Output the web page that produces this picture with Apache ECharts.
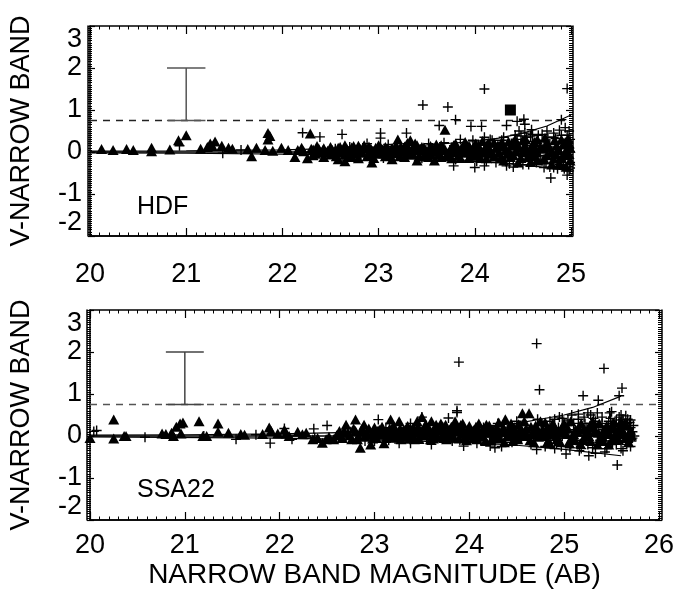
<!DOCTYPE html>
<html>
<head>
<meta charset="utf-8">
<script src="https://cdn.jsdelivr.net/npm/echarts/dist/echarts.min.js"></script>
<style>html,body{margin:0;padding:0;background:#fff;}#c{width:677px;height:591px;}</style>
</head>
<body>
<div id="c"></div>
<script>
// ---------- data ----------
const yTicks = [-2, -1, 0, 1, 2, 3];
const hdfXTicks = [20, 21, 22, 23, 24, 25];
const ssaXTicks = [20, 21, 22, 23, 24, 25, 26];
const panelNames = ['HDF', 'SSA22'];
const cutLevel = 0.75;
const errBar = { x: 21, lo: 0.75, hi: 2.0, halfCap: 0.2 };

const hdfTriangles = [
 [20.12,0.07],[20.24,0.05],[20.38,0.07],[20.45,0.05],[20.64,0.1],[20.64,0.02],[20.83,0.06],[20.92,0.28],[21.0,0.4],
 [21.15,0.08],[21.22,0.12],[21.25,0.2],[21.3,0.25],[21.27,0.15],[21.37,0.15],[21.44,0.1],[21.48,0.08],[21.64,0.07],
 [21.68,-0.1],[21.73,0.1],[21.85,0.45],[21.85,0.3],[21.87,0.38],[21.82,0.05],[21.9,0.03],[21.99,0.1],[22.06,0.05],
 [22.13,-0.12],[22.16,0.05],[22.2,0.1],[22.22,0.02],[22.26,-0.15],[22.29,0.44],[22.3,0.08],[22.33,-0.02],
 [22.32,0.06],[22.32,-0.08],[22.36,0.14],[22.4,-0.02],[22.43,0.09],[22.43,-0.12],[22.47,0.03],[22.5,0.12],[22.5,-0.06],
 [22.54,0.0],[22.58,0.1],[22.58,-0.17],[22.61,0.05],[22.65,-0.06],[22.65,0.16],[22.65,-0.22],[22.69,0.02],[22.72,0.11],
 [22.72,-0.1],[22.76,0.04],[22.79,0.15],[22.79,-0.15],[22.83,-0.02],[22.86,0.08],[22.9,0.13],[22.9,-0.08],[22.93,-0.25],
 [22.93,0.03],[22.97,0.1],[23.0,-0.04],[23.0,0.16],[23.04,0.06],[23.07,-0.1],[23.07,0.12],[23.11,0.02],[23.14,0.09],
 [23.14,-0.17],[23.18,0.15],[23.2,0.3],[23.2,-0.03],[23.24,0.07],[23.27,0.13],[23.27,-0.12],[23.31,0.02],[23.33,0.28],
 [23.36,0.1],[23.36,-0.06],[23.4,-0.2],[23.4,0.16],[23.43,0.04],[23.47,0.11],[23.47,-0.1],[23.5,0.0],[23.54,0.14],
 [23.54,-0.05],[23.58,-0.2],[23.58,0.08],[23.61,0.02],[23.65,0.16],[23.65,-0.12],[23.69,0.53],[23.69,0.06],[23.72,-0.03],
 [23.76,0.12],[23.76,-0.15],[23.8,0.2],[23.8,0.04],[23.83,-0.08],[23.87,0.1],[23.9,0.24],[23.9,-0.02],[23.94,0.14],
 [23.94,-0.14],[23.97,0.05],[24.01,0.2],[24.01,-0.08],[24.05,0.1],[24.08,0.26],[24.08,-0.02],[24.12,-0.15],[24.12,0.15],
 [24.16,0.05],[24.2,0.22],[24.2,-0.1],[24.25,0.0],[24.3,0.14],[24.3,-0.2],[24.35,0.25],[24.35,0.05],[24.4,-0.08],
 [24.45,0.12],[24.45,-0.25],[24.5,0.28],[24.5,0.0],[24.55,-0.12],[24.6,0.18],[24.6,0.06],[24.65,-0.2],[24.65,0.3],
 [24.7,0.08],[24.75,-0.08],[24.75,0.22],[24.8,0.02],[24.8,-0.3],[24.85,0.15],[24.9,-0.15],[24.9,0.3],[24.95,0.05],
 [24.95,-0.35],[24.98,0.2],[24.98,-0.05],
 [22.34,-0.04],[22.38,0.07],[22.45,0.0],[22.52,0.05],[22.56,-0.1],[22.6,0.12],[22.63,-0.02],[22.67,0.07],[22.7,-0.12],
 [22.74,0.14],[22.77,-0.04],[22.81,0.06],[22.85,0.16],[22.88,-0.1],[22.92,0.08],[22.95,-0.14],[22.99,0.04],[23.02,0.12],
 [23.06,-0.02],[23.09,0.07],[23.12,-0.08],[23.16,0.04],[23.19,0.1],[23.22,-0.1],[23.26,0.02],[23.29,0.18],[23.32,-0.06],
 [23.35,0.06],[23.38,0.2],[23.42,-0.1],[23.45,0.12],[23.49,0.05],[23.52,-0.12],[23.56,0.06],[23.6,0.18],[23.63,-0.04],
 [23.67,0.1],[23.7,-0.1],[23.74,0.04],[23.78,0.16],[23.82,0.08],[23.85,-0.14],[23.88,0.16],[23.92,0.06],[23.96,-0.06],
 [23.99,0.12],[24.03,0.02],[24.06,-0.14],[24.1,0.06],[24.14,0.22],[24.18,-0.04],[24.22,0.1],[24.27,-0.14],[24.28,0.24],
 [24.32,0.04],[24.37,-0.12],[24.38,0.15],[24.42,0.3],[24.43,0.02],[24.48,-0.14],[24.52,0.14],[24.53,0.3],[24.57,-0.03],
 [24.58,-0.24],[24.62,0.24],[24.63,-0.1],[24.68,0.12],[24.72,-0.16],[24.73,0.34],[24.77,0.1],[24.82,-0.16],[24.83,0.28],
 [24.87,0.04],[24.88,-0.26],[24.92,0.18],[24.93,-0.08],[24.97,0.32],[24.99,-0.2],[24.99,0.1],
 [22.42,0.04],[22.55,0.04],[22.68,0.0],[22.8,0.1],[22.91,0.02],[23.03,0.0],[23.13,0.05],[23.23,0.12],[23.34,0.0],
 [23.44,0.08],[23.55,0.02],[23.66,0.04],[23.77,0.0],[23.86,0.04],[23.95,0.1],[24.04,0.06],[24.15,0.0],[24.24,0.16],
 [24.34,-0.04],[24.44,0.2],[24.54,0.05],[24.64,0.0],[24.74,0.16],[24.84,-0.05],[24.94,0.24]
];
const hdfCrosses = [
 [20.93,0.15],[21.38,-0.03],[21.57,0.05],[22.21,0.46],[22.39,0.36],[22.62,0.42],[23.02,0.45],[23.02,0.33],[23.29,0.45],
 [23.46,1.12],[23.63,0.63],[23.72,1.07],[23.8,0.77],[23.96,0.61],[24.07,0.61],[24.1,1.5],[24.33,0.63],[24.44,0.73],
 [24.51,0.78],[24.52,0.66],[24.59,0.53],[24.75,0.5],[24.9,0.77],[24.96,1.51],[24.79,-0.62],[24.0,-0.37],[24.1,-0.33],
 [24.33,-0.33],[24.72,-0.37],[24.82,-0.37],[23.78,-0.33],
 [22.35,0.04],[22.55,0.08],[22.62,-0.1],[22.7,0.12],[22.8,-0.05],[22.88,0.2],[22.95,0.0],[23.05,-0.14],[23.1,0.18],
 [23.15,0.0],[23.22,-0.08],[23.3,0.2],[23.38,0.0],[23.45,-0.15],[23.52,0.2],[23.6,-0.08],[23.68,0.22],[23.74,0.05],
 [23.8,-0.18],[23.85,0.3],[23.92,-0.05],[23.98,0.28],[24.02,-0.22],[24.06,0.08],[24.1,0.35],[24.14,-0.05],[24.18,0.28],
 [24.22,-0.25],[24.26,0.12],[24.3,0.35],[24.34,-0.12],[24.38,0.2],[24.42,0.4],[24.46,-0.05],[24.5,-0.3],[24.54,0.15],
 [24.58,0.38],[24.62,-0.15],[24.66,0.05],[24.7,0.42],[24.74,-0.28],[24.78,0.2],[24.82,0.45],[24.86,-0.1],[24.9,0.1],
 [24.93,-0.4],[24.96,0.4],[24.99,0.0],[24.99,-0.25],[24.97,0.25],[24.88,-0.3],[24.84,0.32],[24.76,0.35],[24.68,-0.08],
 [24.6,0.25],[24.52,0.45],[24.44,0.3],[24.36,-0.28],[24.64,-0.25],[24.56,-0.2],[24.86,-0.2],[24.92,0.2],[24.98,0.1],
 [24.04,0.18],[24.12,-0.22],[24.16,0.3],[24.24,-0.12],[24.28,0.28],[24.32,-0.22],[24.4,0.22],[24.48,0.38],[24.5,0.1],
 [24.56,-0.3],[24.6,0.42],[24.64,0.15],[24.7,-0.2],[24.72,0.28],[24.8,-0.1],[24.82,0.35],[24.86,-0.4],[24.9,0.4],
 [24.94,-0.15],[24.96,0.15],[24.98,-0.45],[24.99,0.3],[24.92,-0.3],[24.84,0.12],[24.78,-0.36],[24.66,0.4],[24.58,-0.1],
 [24.54,0.35],[24.46,0.5],[24.4,-0.36],[24.88,0.52],[24.98,0.5],[24.94,0.58],[24.96,-0.55],[24.99,-0.38]
];
const hdfSquares = [[24.37, 1.0]];
const hdfUpper = [[20,0.02],[21,0.03],[22,0.05],[22.5,0.08],[23,0.12],[23.5,0.17],[24,0.25],[24.25,0.33],[24.5,0.45],[24.75,0.62],[25,0.88]];
const hdfLower = [[20,-0.02],[21,-0.03],[22,-0.05],[22.5,-0.07],[23,-0.1],[23.5,-0.14],[24,-0.21],[24.5,-0.3],[25,-0.45]];
const hdfCenter = [[20,0],[25,0]];

const ssaTriangles = [
 [20.0,-0.05],[20.25,0.39],[20.25,-0.06],[20.36,0.0],[20.38,0.0],[20.76,0.06],[20.8,0.05],[20.86,0.08],[20.88,0.0],
 [20.91,0.22],[20.95,0.3],[20.98,0.32],[20.96,0.06],[21.15,0.35],[21.19,0.0],[21.23,0.0],[21.35,0.3],[21.35,0.1],
 [21.46,0.08],[21.59,0.05],[21.63,0.03],[21.82,0.05],[21.89,0.2],[21.91,0.12],[21.98,0.06],[22.05,0.15],[22.07,0.06],
 [22.1,0.0],[22.19,0.1],[22.24,0.04],[22.28,0.08],[22.35,-0.08],[22.4,-0.05],[22.45,-0.16],[22.49,-0.08],[22.52,-0.02],
 [22.57,-0.08],[22.6,0.02],[22.63,0.12],[22.66,-0.05],[22.7,0.27],[22.72,0.08],[22.76,-0.08],[22.8,0.39],[22.8,0.12],
 [22.83,0.0],[22.85,-0.28],[22.87,0.18],[22.89,0.27],[22.92,0.05],[22.96,-0.2],[22.98,0.1],[23.02,-0.05],[23.05,0.15],
 [23.08,0.03],[23.1,-0.17],[23.13,0.1],[23.17,0.39],[23.18,-0.03],[23.21,0.12],[23.24,0.02],[23.26,0.35],[23.28,-0.08],
 [23.31,0.15],[23.34,0.05],[23.37,-0.05],[23.4,0.18],[23.43,0.08],[23.45,0.35],[23.47,-0.07],[23.5,0.45],[23.5,0.12],
 [23.53,0.02],[23.56,0.2],[23.59,-0.08],[23.6,0.35],[23.62,0.1],[23.65,0.27],[23.66,-0.02],[23.69,0.15],[23.72,0.05],
 [23.75,0.27],[23.76,-0.08],[23.79,0.15],[23.82,0.02],[23.85,0.35],[23.86,0.2],[23.89,-0.06],[23.93,0.3],[23.94,0.1],
 [23.97,-0.1],[24.0,0.24],[24.02,0.05],[24.05,0.15],[24.08,-0.08],[24.1,0.3],[24.12,0.08],[24.15,-0.02],[24.18,0.27],
 [24.2,0.12],[24.23,-0.1],[24.26,0.05],[24.29,0.2],[24.32,-0.05],[24.35,0.12],[24.38,0.4],[24.4,0.0],[24.43,0.2],
 [24.46,-0.12],[24.49,0.1],[24.52,0.28],[24.56,0.54],[24.57,0.02],[24.6,0.18],[24.63,0.54],[24.64,-0.1],[24.67,0.1],
 [24.7,0.25],[24.73,-0.02],[24.77,0.15],[24.8,0.32],[24.83,-0.12],[24.86,0.05],[24.9,0.22],[24.93,-0.05],[24.97,0.12],
 [25.0,0.3],[25.05,-0.15],[25.1,0.05],[25.15,0.2],[25.2,-0.08],[25.25,0.12],[25.3,0.35],[25.35,-0.2],[25.4,0.0],
 [25.45,0.25],[25.5,-0.1],[25.55,0.1],[25.6,0.35],[25.65,-0.05],[25.7,0.15],
 [22.62,0.05],[22.68,0.12],[22.74,0.02],[22.78,0.18],[22.82,-0.08],[22.86,0.1],[22.9,0.0],[22.94,0.18],[22.98,-0.06],
 [23.0,0.2],[23.04,0.06],[23.08,0.22],[23.12,-0.05],[23.15,0.1],[23.2,0.25],[23.23,-0.04],[23.27,0.18],[23.3,0.0],
 [23.35,0.24],[23.38,0.1],[23.42,-0.08],[23.46,0.22],[23.49,0.02],[23.54,0.28],[23.57,0.08],[23.62,-0.06],[23.66,0.14],
 [23.7,0.3],[23.73,-0.05],[23.77,0.08],[23.81,0.22],[23.84,-0.04],[23.88,0.12],[23.91,0.26],[23.96,0.02],[23.99,0.14],
 [24.04,-0.05],[24.07,0.22],[24.11,0.0],[24.14,0.15],[24.17,-0.12],[24.21,0.25],[24.24,0.08],[24.28,-0.06],[24.31,0.32],
 [24.34,0.1],[24.37,-0.15],[24.41,0.12],[24.44,0.3],[24.47,0.02],[24.51,-0.08],[24.54,0.18],[24.58,0.35],[24.61,0.0],
 [24.65,0.22],[24.68,-0.15],[24.72,0.12],[24.75,0.35],[24.79,0.0],[24.82,0.2],[24.85,-0.18],[24.88,0.3],[24.91,0.08],
 [24.95,-0.12],[24.98,0.22],[25.02,0.05],[25.07,0.35],[25.08,-0.05],[25.12,0.15],[25.17,-0.18],[25.18,0.3],[25.22,0.0],
 [25.27,0.25],[25.28,-0.12],[25.32,0.1],[25.37,0.3],[25.38,-0.05],[25.42,0.15],[25.47,-0.2],[25.48,0.05],[25.52,0.32],
 [25.57,-0.08],[25.58,0.2],[25.62,0.05],[25.66,0.25],[25.68,-0.15],[25.71,0.02],
 [23.03,0.12],[23.1,0.05],[23.16,0.18],[23.22,0.08],[23.29,0.1],[23.33,0.16],[23.4,0.04],[23.44,0.15],[23.52,0.08],
 [23.58,0.16],[23.64,0.05],[23.68,0.2],[23.74,0.12],[23.8,0.06],[23.83,0.14],[23.9,0.18],[23.95,0.06],[24.01,0.12],
 [24.06,0.04],[24.09,0.16],[24.16,0.08],[24.19,0.18],[24.25,0.14],[24.3,0.06],[24.36,0.2],[24.42,0.06],[24.48,0.16],
 [24.53,0.06],[24.59,0.1],[24.66,0.05],[24.7,0.15],[24.76,0.06],[24.81,0.1],[24.87,0.15],[24.92,0.0],[24.99,0.08],
 [25.04,0.18],[25.11,-0.08],[25.14,0.1],[25.21,0.15],[25.26,0.0],[25.31,0.2],[25.36,0.08],[25.41,-0.12],[25.44,0.1],
 [25.5,0.18],[25.54,-0.02],[25.61,0.15],[25.64,0.3],[25.69,0.08]
];
const ssaCrosses = [
 [20.04,0.11],[20.07,0.13],[20.58,-0.03],[21.2,0.0],[21.54,-0.08],[21.75,0.03],[21.9,-0.17],[22.05,0.18],[22.13,-0.08],
 [22.36,0.17],[22.37,-0.04],[22.5,0.25],[22.62,-0.05],[22.75,0.1],[22.9,-0.12],[23.04,0.39],[23.0,0.0],[23.15,-0.1],
 [23.26,-0.17],[23.3,0.1],[23.38,0.3],[23.38,-0.17],[23.5,0.45],[23.55,-0.05],[23.6,-0.2],[23.7,0.1],[23.78,0.43],
 [23.87,0.6],[23.87,0.56],[23.9,-0.1],[23.94,-0.24],[24.05,0.1],[24.08,-0.17],[24.15,0.2],[24.22,-0.24],[24.27,-0.28],
 [24.3,0.3],[24.34,-0.25],[24.4,0.15],[24.45,-0.15],[24.5,0.35],[24.55,-0.05],[24.6,0.25],[24.65,-0.2],[24.71,-0.32],
 [24.72,0.4],[24.75,0.05],[24.8,-0.25],[24.85,0.35],[24.88,0.1],[24.92,-0.18],[24.95,0.45],[24.98,0.0],[25.02,-0.43],
 [25.03,0.25],[25.06,-0.28],[25.08,0.5],[25.1,0.15],[25.12,-0.1],[25.15,0.4],[25.18,-0.3],[25.2,0.96],[25.2,0.05],
 [25.22,0.3],[25.25,-0.2],[25.26,-0.47],[25.28,0.5],[25.3,0.1],[25.33,-0.41],[25.33,0.35],[25.36,0.85],[25.38,-0.1],
 [25.4,0.45],[25.42,1.61],[25.42,0.15],[25.45,-0.3],[25.48,0.55],[25.5,0.0],[25.52,0.3],[25.55,-0.2],[25.56,-0.69],
 [25.58,0.96],[25.58,0.45],[25.6,0.1],[25.61,1.14],[25.62,-0.35],[25.63,0.25],[25.65,-0.1],[25.67,0.4],[25.68,0.05],
 [25.7,-0.25],[25.7,0.2],[25.72,-0.05],[25.72,0.1],[23.89,1.76],[24.71,2.2],[24.74,1.1],
 [25.05,0.1],[25.14,-0.2],[25.24,0.2],[25.35,0.0],[25.44,-0.12],[25.53,0.18],[25.62,-0.02],[25.66,0.3],[25.47,0.35],
 [24.82,0.15],[24.86,-0.1],[24.9,0.4],[24.94,0.2],[24.97,-0.25],[25.0,0.12],[25.04,0.38],[25.07,-0.2],[25.1,0.3],
 [25.13,0.0],[25.16,-0.35],[25.19,0.2],[25.21,0.45],[25.24,-0.05],[25.27,0.15],[25.3,-0.28],[25.31,0.42],[25.34,0.2],
 [25.37,-0.15],[25.4,0.3],[25.43,-0.38],[25.46,0.1],[25.49,0.42],[25.51,-0.15],[25.54,0.25],[25.57,0.05],[25.6,-0.3],
 [25.6,0.5],[25.63,0.15],[25.66,-0.2],[25.69,0.32],[25.71,-0.12],[25.73,0.25],[25.74,0.0],[25.5,0.58],[25.55,0.38],
 [25.65,0.48],[25.7,0.38],[25.62,0.4],[25.35,0.55],[25.25,0.55],[25.15,0.52],[24.98,0.42],[24.92,-0.05],
 [22.7,-0.02],[22.85,0.05],[23.0,-0.12],[23.12,0.2],[23.25,0.05],[23.42,0.12],[23.58,0.02],[23.72,0.2],[23.82,-0.12],
 [23.98,0.05],[24.12,-0.1],[24.25,0.15],[24.38,0.0],[24.48,0.2],[24.62,-0.1],[24.78,0.25],[24.9,-0.3]
];
const ssaUpper = [[20,0.02],[21,0.03],[22,0.05],[23,0.1],[23.5,0.13],[24,0.2],[24.5,0.3],[25,0.5],[25.3,0.68],[25.6,0.95]];
const ssaLower = [[20,-0.02],[22,-0.05],[23,-0.09],[24,-0.16],[24.5,-0.22],[25,-0.32],[25.6,-0.47]];
const ssaCenter = [[20,0],[25.6,0]];

// ---------- chart ----------
const FONT = "'Liberation Sans', Arial, Helvetica, sans-serif";
const crossPath = 'path://M4.3,0h1.4v4.3h4.3v1.4h-4.3v4.3h-1.4v-4.3h-4.3v-1.4h4.3z';
const GRIDS = [
  { left: 88, top: 26, width: 483, height: 210 },
  { left: 88, top: 310, width: 572, height: 210 }
];
const AXLINE = { show: true, onZero: false, lineStyle: { color: '#000', width: 1.5 } };

function xLab(grid, max, name, margin) {
  return {
    type: 'value', gridIndex: grid, position: 'bottom', min: 20, max: max, interval: 1,
    name: name || '', nameLocation: 'middle', nameGap: 41,
    nameTextStyle: { fontFamily: FONT, fontSize: 28, color: '#000' },
    axisLine: AXLINE, axisTick: { show: false }, minorTick: { show: false },
    axisLabel: { show: true, fontFamily: FONT, fontSize: 27, color: '#000', margin: margin },
    splitLine: { show: false }
  };
}
function xTick(grid, max, pos) {
  return {
    type: 'value', gridIndex: grid, position: pos, offset: -GRIDS[grid].height, min: 20, max: max, interval: 1,
    axisLine: AXLINE,
    axisTick: { show: true, length: 8, lineStyle: { color: '#000', width: 1.2 } },
    minorTick: { show: true, splitNumber: 10, length: 3.5, lineStyle: { color: '#000', width: 1 } },
    axisLabel: { show: false }, splitLine: { show: false }
  };
}
function yLab(grid) {
  return {
    type: 'value', gridIndex: grid, position: 'left', min: -2, max: 3, interval: 1,
    name: 'V-NARROW BAND', nameLocation: 'middle', nameGap: 55, nameRotate: 90,
    nameTextStyle: { fontFamily: FONT, fontSize: 27, color: '#000' },
    axisLine: AXLINE, axisTick: { show: false }, minorTick: { show: false },
    axisLabel: { show: true, fontFamily: FONT, fontSize: 27, color: '#000', margin: 8,
                 verticalAlignMaxLabel: 'top', verticalAlignMinLabel: 'bottom' },
    splitLine: { show: false }
  };
}
function yTick(grid, pos) {
  return {
    type: 'value', gridIndex: grid, position: pos, offset: -GRIDS[grid].width, min: -2, max: 3, interval: 1,
    axisLine: AXLINE,
    axisTick: { show: true, length: 7, lineStyle: { color: '#000', width: 1.2 } },
    minorTick: { show: true, splitNumber: 20, length: 4, lineStyle: { color: '#000', width: 1 } },
    axisLabel: { show: false }, splitLine: { show: false }
  };
}
function scat(data, symbol, size, xi, yi) {
  return { type: 'scatter', xAxisIndex: xi, yAxisIndex: yi, data: data, symbol: symbol, symbolSize: size,
           itemStyle: { color: '#000', opacity: 1 }, silent: true, z: 3 };
}
function line(data, xi, yi, color, width, type, z) {
  return { type: 'line', xAxisIndex: xi, yAxisIndex: yi, data: data, symbol: 'none', smooth: false,
           lineStyle: { color: color, width: width, type: type || 'solid' }, silent: true, z: z || 4 };
}
function errBarPts(b) {
  return [[b.x - b.halfCap, b.hi], [b.x + b.halfCap, b.hi], [b.x, b.hi], [b.x, b.lo],
          [b.x - b.halfCap, b.lo], [b.x + b.halfCap, b.lo]];
}

const chart = echarts.init(document.getElementById('c'), null, { renderer: 'canvas' });
chart.setOption({
  animation: false,
  backgroundColor: '#fff',
  grid: GRIDS,
  xAxis: [
    xLab(0, 25, '', 25),
    xTick(0, 25, 'top'),
    xTick(0, 25, 'bottom'),
    xLab(1, 26, 'NARROW BAND MAGNITUDE (AB)', 12),
    xTick(1, 26, 'top'),
    xTick(1, 26, 'bottom')
  ],
  yAxis: [
    yLab(0),
    yTick(0, 'right'),
    yTick(0, 'left'),
    yLab(1),
    yTick(1, 'right'),
    yTick(1, 'left')
  ],
  graphic: [
    { type: 'text', left: 137, top: 195, style: { text: panelNames[0], font: '25px ' + FONT, fill: '#000' } },
    { type: 'text', left: 137, top: 478, style: { text: panelNames[1], font: '25px ' + FONT, fill: '#000' } }
  ],
  series: [
    line([[20, cutLevel], [25, cutLevel]], 0, 0, '#222', 1.3, [7, 6], 2),
    line(errBarPts(errBar), 0, 0, '#555', 1.5, 'solid', 2),
    line(hdfCenter, 0, 0, '#000', 1.5),
    line(hdfUpper, 0, 0, '#000', 1.2),
    line(hdfLower, 0, 0, '#000', 1.2),
    scat(hdfCrosses, crossPath, 10, 0, 0),
    scat(hdfTriangles, 'triangle', [11, 10], 0, 0),
    scat(hdfSquares, 'rect', 11, 0, 0),

    line([[20, cutLevel], [26, cutLevel]], 3, 3, '#555', 1.3, [7, 6], 2),
    line(errBarPts(errBar), 3, 3, '#444', 1.5, 'solid', 2),
    line(ssaCenter, 3, 3, '#000', 1.5),
    line(ssaUpper, 3, 3, '#000', 1.2),
    line(ssaLower, 3, 3, '#000', 1.2),
    scat(ssaCrosses, crossPath, 10, 3, 3),
    scat(ssaTriangles, 'triangle', [11, 10], 3, 3)
  ]
});
</script>
</body>
</html>
